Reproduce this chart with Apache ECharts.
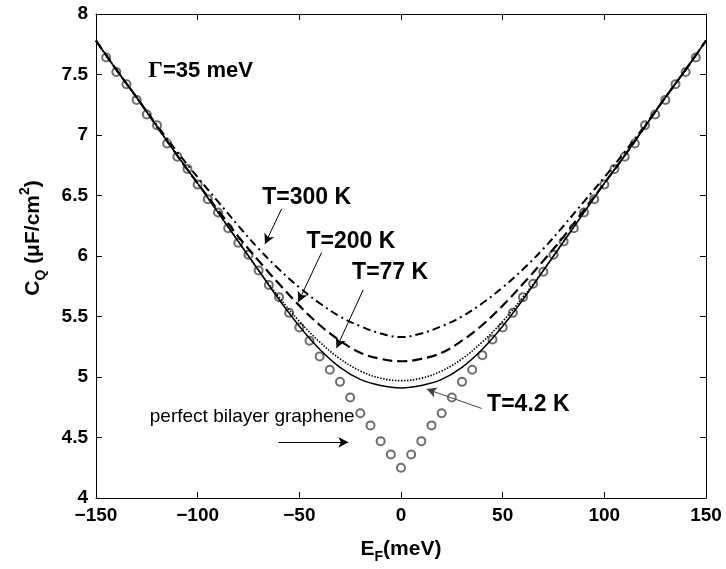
<!DOCTYPE html>
<html>
<head>
<meta charset="utf-8">
<script src="https://cdn.jsdelivr.net/npm/echarts@6/dist/echarts.min.js"></script>
<style>
    html, body { margin: 0; padding: 0; background: #fff; }
    #chart { width: 726px; height: 569px; }
</style>
</head>
<body>
<div id="chart"></div>
<script>
// E_F (meV) sample points for the computed curves
const energy = [-150, -140, -130, -120, -110, -100, -90, -80, -70, -60, -50, -40, -30, -20, -10, 0,
    10, 20, 30, 40, 50, 60, 70, 80, 90, 100, 110, 120, 130, 140, 150];

// C_Q curves, Gamma = 35 meV
const cT4K = [7.78, 7.54, 7.31, 7.07, 6.83, 6.60, 6.36, 6.12, 5.88, 5.64, 5.42, 5.23, 5.08, 4.98, 4.93, 4.91,
    4.93, 4.98, 5.08, 5.23, 5.42, 5.64, 5.88, 6.12, 6.36, 6.60, 6.83, 7.07, 7.31, 7.54, 7.78];
const cT77K = [7.78, 7.54, 7.31, 7.07, 6.83, 6.60, 6.36, 6.12, 5.88, 5.66, 5.46, 5.29, 5.15, 5.05, 4.99, 4.97,
    4.99, 5.05, 5.15, 5.29, 5.46, 5.66, 5.88, 6.12, 6.36, 6.60, 6.83, 7.07, 7.31, 7.54, 7.78];
const cT200K = [7.78, 7.54, 7.31, 7.07, 6.83, 6.60, 6.38, 6.16, 5.96, 5.77, 5.59, 5.43, 5.30, 5.20, 5.15, 5.13,
    5.15, 5.20, 5.30, 5.43, 5.59, 5.77, 5.96, 6.16, 6.38, 6.60, 6.83, 7.07, 7.31, 7.54, 7.78];
const cT300K = [7.78, 7.54, 7.31, 7.08, 6.86, 6.65, 6.45, 6.25, 6.06, 5.89, 5.74, 5.61, 5.50, 5.42, 5.36, 5.33,
    5.36, 5.42, 5.50, 5.61, 5.74, 5.89, 6.06, 6.25, 6.45, 6.65, 6.86, 7.08, 7.31, 7.54, 7.78];

// perfect bilayer graphene (circles)
const perfectE = [-145, -140, -135, -130, -125, -120, -115, -110, -105, -100, -95, -90, -85, -80, -75, -70,
    -65, -60, -55, -50, -45, -40, -35, -30, -25, -20, -15, -10, -5, 0,
    5, 10, 15, 20, 25, 30, 35, 40, 45, 50, 55, 60, 65, 70, 75, 80, 85, 90, 95, 100,
    105, 110, 115, 120, 125, 130, 135, 140, 145];
const perfectC = [7.64, 7.52, 7.42, 7.29, 7.17, 7.08, 6.93, 6.82, 6.72, 6.59, 6.47, 6.36, 6.23, 6.11, 6.01, 5.88,
    5.76, 5.66, 5.53, 5.41, 5.30, 5.17, 5.06, 4.96, 4.83, 4.70, 4.60, 4.47, 4.36, 4.25,
    4.36, 4.47, 4.60, 4.70, 4.83, 4.96, 5.06, 5.18, 5.31, 5.41, 5.53, 5.66, 5.77, 5.87, 6.01, 6.12, 6.23, 6.36, 6.47, 6.59,
    6.72, 6.82, 6.93, 7.08, 7.17, 7.29, 7.42, 7.52, 7.64];

const xMin = -150, xMax = 150, xStep = 50;
const yMin = 4, yMax = 8, yStep = 0.5;

const FONT = '"Liberation Sans", Arial, sans-serif';

const chart = echarts.init(document.getElementById('chart'));

const pairs = (xs, ys) => xs.map((x, i) => [x, ys[i]]);

const boldText = {
    b: { fontFamily: FONT, fontSize: 21, fontWeight: 'bold', color: '#000', lineHeight: 30, verticalAlign: 'middle' },
    sub: { fontFamily: FONT, fontSize: 14, fontWeight: 'bold', color: '#000', lineHeight: 14, verticalAlign: 'bottom' },
    sup: { fontFamily: FONT, fontSize: 14, fontWeight: 'bold', color: '#000', lineHeight: 14, verticalAlign: 'top' }
};

const baseAxisLine = { show: true, onZero: false, lineStyle: { color: '#000', width: 1 } };
const baseTick = { show: true, inside: true, length: 6, lineStyle: { color: '#000', width: 1 } };

const lineSeries = (name, values, dash, width) => ({
    name: name,
    type: 'line',
    data: pairs(energy, values),
    symbol: 'none',
    smooth: 0.4,
    lineStyle: { color: '#000', width: width, type: dash },
    z: 3
});

// text labels placed at data coordinates (left-middle anchor)
const textMark = (txt, x, y, size, weight, rich) => ({
    coord: [x, y],
    symbol: 'circle',
    symbolSize: 1,
    itemStyle: { color: 'rgba(0,0,0,0)' },
    label: {
        show: true,
        position: 'right',
        distance: 0,
        formatter: txt,
        fontFamily: FONT,
        fontSize: size,
        fontWeight: weight,
        color: '#000',
        rich: rich
    }
});

const arrow = (x1, y1, x2, y2, color) => [
    { coord: [x1, y1], lineStyle: { color: color, width: 1, type: 'solid' } },
    { coord: [x2, y2] }
];

const option = {
    animation: false,
    backgroundColor: '#fff',
    grid: { left: 96, right: 20, top: 14, bottom: 61 },
    xAxis: [
        {
            type: 'value',
            min: xMin, max: xMax, interval: xStep,
            axisLine: baseAxisLine,
            axisTick: baseTick,
            splitLine: { show: false },
            axisLabel: {
                margin: 8,
                fontFamily: FONT, fontSize: 19, fontWeight: 'bold', color: '#000',
                formatter: v => String(v).replace('-', '\u2212')
            },
            name: '{b|E}{sub|F}{b|(meV)}',
            nameLocation: 'middle',
            nameGap: 36,
            nameTextStyle: { rich: boldText }
        },
        {
            type: 'value',
            position: 'top',
            min: xMin, max: xMax, interval: xStep,
            axisLine: baseAxisLine,
            axisTick: baseTick,
            axisLabel: { show: false },
            splitLine: { show: false }
        }
    ],
    yAxis: [
        {
            type: 'value',
            min: yMin, max: yMax, interval: yStep,
            axisLine: baseAxisLine,
            axisTick: baseTick,
            splitLine: { show: false },
            axisLabel: {
                margin: 8,
                fontFamily: FONT, fontSize: 19, fontWeight: 'bold', color: '#000'
            }
        },
        {
            type: 'value',
            position: 'right',
            min: yMin, max: yMax, interval: yStep,
            axisLine: baseAxisLine,
            axisTick: baseTick,
            axisLabel: { show: false },
            splitLine: { show: false }
        }
    ],
    graphic: [
        {
            type: 'text',
            x: 33, y: 238,
            rotation: Math.PI / 2,
            style: {
                text: '{b|C}{sub|Q}{b| (\u03bcF/cm}{sup|2}{b|)}',
                rich: boldText,
                align: 'center',
                verticalAlign: 'middle'
            }
        }
    ],
    series: [
        {
            name: 'perfect bilayer graphene',
            type: 'scatter',
            data: pairs(perfectE, perfectC),
            symbol: 'emptyCircle',
            symbolSize: 8,
            itemStyle: { color: '#4a4a4a', borderWidth: 1.1 },
            z: 2
        },
        lineSeries('T=300 K', cT300K, [8, 4, 2, 4], 2),
        lineSeries('T=200 K', cT200K, [10, 5], 2.2),
        lineSeries('T=77 K', cT77K, [1.5, 1.5], 1.6),
        lineSeries('T=4.2 K', cT4K, 'solid', 1.5),
        {
            name: 'notes',
            type: 'line',
            data: [],
            z: 4,
            markPoint: {
                data: [
                    textMark('{g|\u0393}{t|=35 meV}', -124.5, 7.53, 22, 'bold', {
                        g: { fontFamily: '"Liberation Serif", serif', fontSize: 23, color: '#000' },
                        t: { fontFamily: FONT, fontSize: 22, fontWeight: 'bold', color: '#000' }
                    }),
                    textMark('T=300 K', -68.5, 6.48, 23, 'bold'),
                    textMark('T=200 K', -46.7, 6.12, 23, 'bold'),
                    textMark('T=77 K', -24.3, 5.86, 23, 'bold'),
                    textMark('T=4.2 K', 42.1, 4.77, 23, 'bold'),
                    textMark('perfect bilayer graphene', -123.8, 4.67, 19, 'normal')
                ]
            },
            markLine: {
                silent: true,
                symbol: ['none', 'arrow'],
                symbolSize: [8, 10],
                label: { show: false },
                lineStyle: { color: '#000', width: 1, type: 'solid' },
                data: [
                    arrow(-58.7, 6.39, -66.9, 6.10, '#000'),
                    arrow(-39.0, 6.03, -50.5, 5.62, '#000'),
                    arrow(-18.6, 5.72, -31.7, 5.24, '#000'),
                    arrow(39.7, 4.74, 12.6, 4.90, '#444'),
                    arrow(-60.3, 4.46, -25.9, 4.46, '#000')
                ]
            }
        }
    ]
};

chart.setOption(option);
</script>
</body>
</html>
